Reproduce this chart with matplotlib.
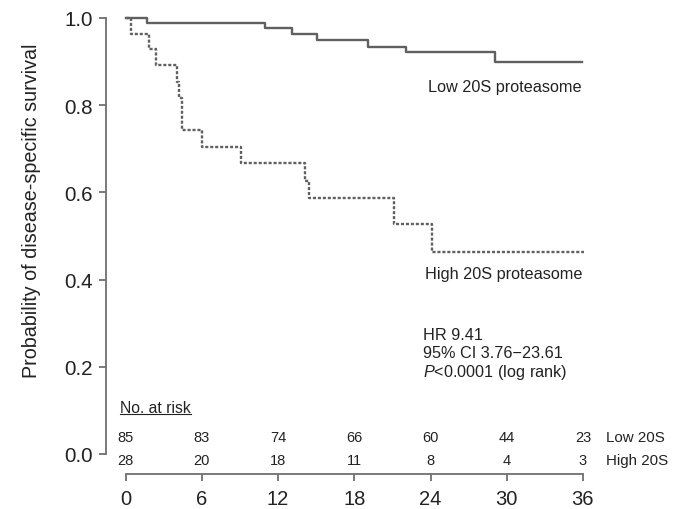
import numpy as np
import matplotlib
matplotlib.use('Agg')
import matplotlib.pyplot as plt
from matplotlib.lines import Line2D

plt.rcParams['font.family'] = ['Liberation Sans', 'DejaVu Sans']
plt.rcParams['mathtext.fontset'] = 'custom'
plt.rcParams['mathtext.rm'] = 'Liberation Sans'
plt.rcParams['mathtext.it'] = 'Liberation Sans:italic'

# Kaplan-Meier curves (months, survival)
low_t = [0, 1.7, 11.0, 13.1, 15.1, 19.1, 22.1, 29.1, 35.9]
low_s = [1.0, 0.988, 0.976, 0.964, 0.949, 0.934, 0.921, 0.900, 0.900]
high_t = [0, 0.4, 1.8, 2.4, 4.0, 4.2, 4.4, 6.0, 9.1, 14.1, 14.4, 21.1, 24.1, 36.1]
high_s = [1.0, 0.964, 0.929, 0.893, 0.853, 0.817, 0.742, 0.705, 0.667, 0.627, 0.587,
          0.528, 0.463, 0.463]

# number at risk table
risk_months = [0, 6, 12, 18, 24, 30, 36]
risk_low = [85, 83, 74, 66, 60, 44, 23]
risk_high = [28, 20, 18, 11, 8, 4, 3]

yticks = [0.0, 0.2, 0.4, 0.6, 0.8, 1.0]

line_col = '#606060'
axis_col = '#707070'
text_col = '#222222'

fig = plt.figure(figsize=(6.82, 5.10), dpi=100)
ax = fig.add_axes([105.7 / 682, 1 - 475 / 510, (670 - 105.7) / 682, 460 / 510])

ax.step(low_t, low_s, where='post', color=line_col, lw=1.7)
ax.step(high_t, high_s, where='post', color=line_col, lw=1.7, linestyle=(0, (1.3, 0.8)))

ax.set_xlim(-20 / 12.7, (670 - 125.7) / 12.7)
ax.set_ylim(-20 / 436, 1 + 4 / 436)

ax.spines['top'].set_visible(False)
ax.spines['right'].set_visible(False)
ax.spines['left'].set_bounds(0, 1)
ax.spines['bottom'].set_bounds(0, 36)
for s in ['left', 'bottom']:
    ax.spines[s].set_color(axis_col)
    ax.spines[s].set_linewidth(1.3)

ax.set_xticks(risk_months)
ax.set_yticks(yticks)
ax.set_yticklabels(['%.1f' % v for v in yticks])
ax.tick_params(axis='x', length=5, width=1.3, color=axis_col, labelsize=14.5,
               labelcolor=text_col, pad=6)
ax.tick_params(axis='y', length=5, width=1.3, color=axis_col, labelsize=14.8,
               labelcolor=text_col, pad=4)

fig.text(32 / 682, 1 - 211 / 510, 'Probability of disease-specific survival',
         rotation=90, ha='center', va='center', fontsize=14.2, color=text_col)

ax.text(23.8, 0.842, 'Low 20S proteasome', fontsize=11.7, color=text_col, va='center')
ax.text(23.6, 0.415, 'High 20S proteasome', fontsize=11.7, color=text_col, va='center')
ax.text(23.4, 0.275, 'HR 9.41', fontsize=11.7, color=text_col, va='center')
ax.text(23.4, 0.232, '95% CI 3.76\u221223.61', fontsize=11.7, color=text_col, va='center')
ax.text(23.4, 0.189, '$P$<0.0001 (log rank)', fontsize=11.7, color=text_col, va='center')

# at-risk table
hdr = ax.text(-0.45, 0.106, 'No. at risk', fontsize=11.3, color=text_col, va='center')
for m, a, b in zip(risk_months, risk_low, risk_high):
    ax.text(m, 0.039, str(a), ha='center', va='center', fontsize=10.5, color=text_col)
    ax.text(m, -0.014, str(b), ha='center', va='center', fontsize=10.5, color=text_col)
ax.text(37.8, 0.039, 'Low 20S', va='center', fontsize=10.9, color=text_col, clip_on=False)
ax.text(37.8, -0.014, 'High 20S', va='center', fontsize=10.9, color=text_col, clip_on=False)

# underline the header
fig.canvas.draw()
bb = hdr.get_window_extent(fig.canvas.get_renderer())
uy = bb.y0 + 1
fig.add_artist(Line2D([bb.x0 / fig.bbox.width, bb.x1 / fig.bbox.width],
                      [uy / fig.bbox.height, uy / fig.bbox.height],
                      color=text_col, lw=0.8))

fig.savefig('out.png', dpi=100)
